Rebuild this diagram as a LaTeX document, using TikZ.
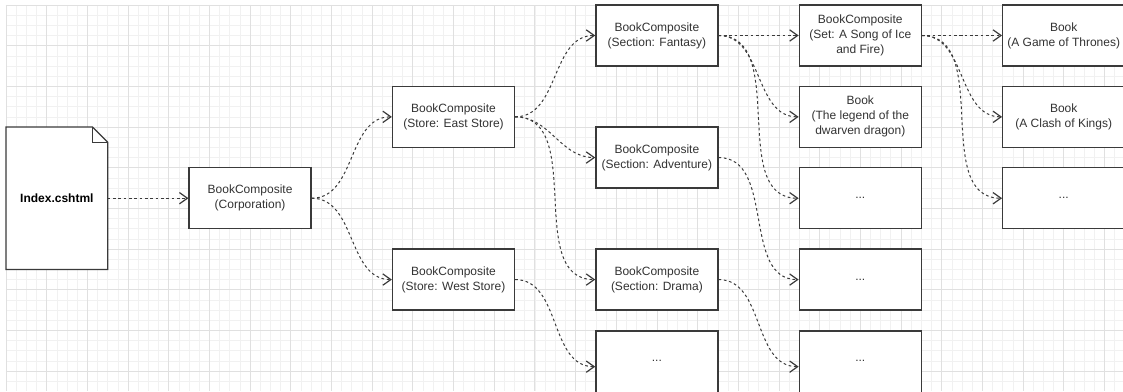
\documentclass[tikz,border=0pt]{standalone}
\usepackage{fontspec}
\setmainfont{Liberation Sans}
\usetikzlibrary{arrows.meta,shapes.misc}
\definecolor{minorgrid}{HTML}{F1F1F1}
\definecolor{majorgrid}{HTML}{E0E0E0}
\definecolor{boxline}{HTML}{3A3A3A}
\definecolor{txt}{HTML}{333333}
\tikzset{
  card/.style={draw=boxline, line width=0.95pt, fill=white, rectangle,
    minimum width=12*7.6275pt, minimum height=6*7.6275pt, inner sep=1pt,
    align=center, text=txt, font=\fontsize{9}{11.25}\selectfont},
  tallcard/.style={card, minimum height=7*7.6275pt},
  link/.style={draw=boxline, line width=0.75pt, dash pattern=on 2pt off 2pt,
    -{Straight Barb[length=6pt,width=8.5pt,line width=0.9pt]},
    out=0, in=180, looseness=1},
}
\begin{document}
\begin{tikzpicture}[x=7.6275pt, y=-7.6275pt]
\useasboundingbox (-0.59,-0.49) rectangle (109.83,37.96);
% grid
\foreach \i in {0,...,109} \draw[minorgrid, line width=0.5pt] (\i,0) -- (\i,37.96);
\foreach \j in {0,...,37} \draw[minorgrid, line width=0.5pt] (0,\j) -- (109.83,\j);
\foreach \i in {0,4,...,108} \draw[majorgrid, line width=0.6pt] (\i,0) -- (\i,37.96);
\foreach \j in {0,4,...,36} \draw[majorgrid, line width=0.6pt] (0,\j) -- (109.83,\j);
% document
\draw[boxline, line width=0.95pt, fill=white] (0,12) -- (8.5,12) -- (10,13.5) -- (10,26) -- (0,26) -- cycle;
\draw[boxline, line width=0.95pt] (8.5,12) -- (8.5,13.5) -- (10,13.5);
\node[font=\bfseries\fontsize{9}{11}\selectfont, text=black] (doc) at (5,19) {Index.cshtml};
\coordinate (docr) at (10,19);
% column 1
\node[card] (corp) at (24,19) {BookComposite\\(Corporation)};
% column 2
\node[card] (east) at (44,11) {BookComposite\\(Store: East Store)};
\node[card] (west) at (44,27) {BookComposite\\(Store: West Store)};
% column 3
\node[card] (fant) at (64,3) {BookComposite\\(Section: Fantasy)};
\node[card] (adv) at (64,15) {BookComposite\\(Section: Adventure)};
\node[card] (drama) at (64,27) {BookComposite\\(Section: Drama)};
\node[tallcard, anchor=north] (c3d) at (64,32) {};
\node[txt, font=\fontsize{9}{11}\selectfont] (c3dt) at (64,35) {...};
% column 4
\node[card] (set) at (84,3) {BookComposite\\(Set: A Song of Ice\\and Fire)};
\node[card] (legend) at (84,11) {Book\\(The legend of the\\dwarven dragon)};
\node[card] (c4a) at (84,19) {...};
\node[card] (c4b) at (84,27) {...};
\node[tallcard, anchor=north] (c4c) at (84,32) {};
\node[txt, font=\fontsize{9}{11}\selectfont] (c4ct) at (84,35) {...};
% column 5
\node[card] (got) at (104,3) {Book\\(A Game of Thrones)};
\node[card] (clash) at (104,11) {Book\\(A Clash of Kings)};
\node[card] (c5a) at (104,19) {...};
% connectors
\draw[link] (docr) to (corp.west);
\draw[link] (corp.east) to (east.west);
\draw[link] (corp.east) to (west.west);
\draw[link] (east.east) to (fant.west);
\draw[link] (east.east) to (adv.west);
\draw[link] (east.east) to (drama.west);
\draw[link] (west.east) to (c3d.west);
\draw[link] (fant.east) to (set.west);
\draw[link] (fant.east) to (legend.west);
\draw[link] (fant.east) to (c4a.west);
\draw[link] (adv.east) to (c4b.west);
\draw[link] (drama.east) to (c4c.west);
\draw[link] (set.east) to (got.west);
\draw[link] (set.east) to (clash.west);
\draw[link] (set.east) to (c5a.west);
\end{tikzpicture}
\end{document}
